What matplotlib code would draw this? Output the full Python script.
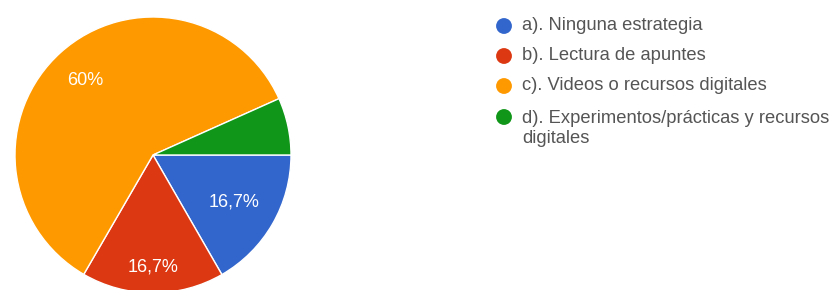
import numpy as np
import matplotlib
matplotlib.use("Agg")
import matplotlib.pyplot as plt

labels = ["a). Ninguna estrategia",
          "b). Lectura de apuntes",
          "c). Videos o recursos digitales",
          "d). Experimentos/prácticas y recursos\ndigitales"]
values = [16.7, 16.7, 60.0, 6.7]
colors = ["#3366cc", "#dc3912", "#ff9900", "#109618"]

W, H = 837, 290
fig = plt.figure(figsize=(W / 100, H / 100), dpi=100)
ax = fig.add_axes([0, 0, 1, 1])

FONT = "Liberation Sans"
cx, cy, r = 153, H - 155, 138

wedges, _ = ax.pie(values, colors=colors, startangle=0, counterclock=False,
                   center=(cx, cy), radius=r, frame=True,
                   wedgeprops=dict(edgecolor="white", linewidth=1.0))
ax.set_xlim(0, W)
ax.set_ylim(0, H)
ax.set_aspect("equal")
ax.axis("off")

def fmt(v):
    if abs(v - round(v)) < 1e-9:
        return f"{int(round(v))}%"
    return f"{v:.1f}".replace(".", ",") + "%"

label_dist = [0.68, 0.81, 0.73, 0.0]
for w, v, d in zip(wedges, values, label_dist):
    if v < 10:
        continue
    th = np.deg2rad((w.theta1 + w.theta2) / 2)
    ax.text(cx + d * r * np.cos(th), cy + d * r * np.sin(th), fmt(v),
            ha="center", va="center", color="white", fontsize=13,
            family=FONT)

# legend
lx, tx = 504, 522
ys = [26, 56, 86, 117]
for y, c, lab in zip(ys, colors, labels):
    ax.scatter([lx], [H - y], s=130, color=c, edgecolors="none")
    nlines = lab.count("\n") + 1
    yc = y + (nlines - 1) * 23 / 2
    ax.text(tx, H - yc, lab, ha="left", va="center", color="#555555",
            fontsize=13.2, family=FONT, linespacing=1.2)

fig.savefig("out.png", dpi=100)
